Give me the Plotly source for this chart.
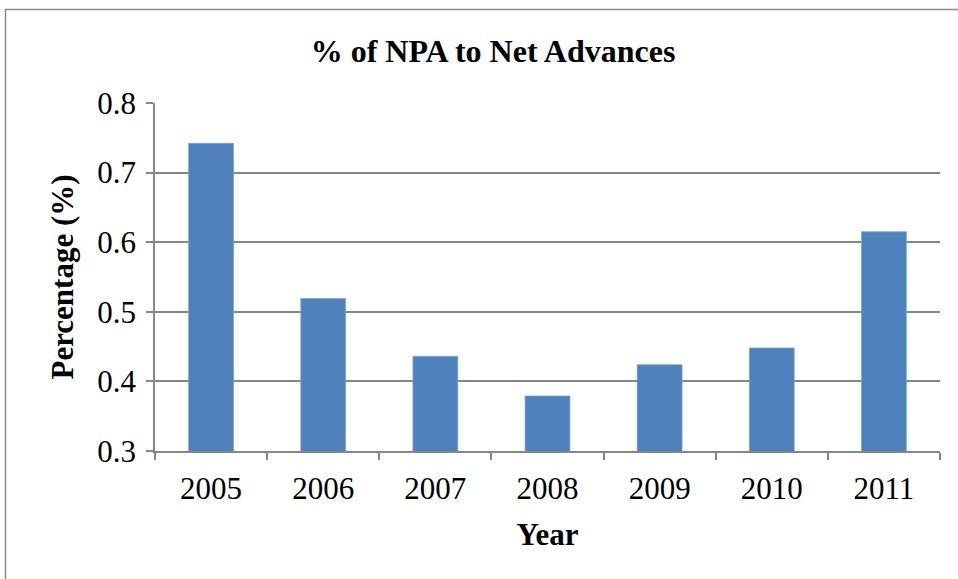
import plotly.graph_objects as go

years = ["2005", "2006", "2007", "2008", "2009", "2010", "2011"]
npa_pct = [0.742, 0.519, 0.436, 0.379, 0.424, 0.448, 0.615]
y_ticks = [0.3, 0.4, 0.5, 0.6, 0.7, 0.8]

W, H = 958, 579
L, R, T, B = 155, 18, 103, 128
pw, ph = W - L - R, H - T - B

font = "Liberation Serif, Times New Roman, serif"
grey = "#868686"

fig = go.Figure(go.Bar(
    x=years, y=npa_pct,
    marker=dict(color="#4F81BD", line=dict(color="#7FA3D1", width=0.8)),
))

fig.update_layout(
    width=W, height=H,
    margin=dict(l=L, r=R, t=T, b=B, pad=0),
    paper_bgcolor="white", plot_bgcolor="white",
    bargap=0.6,
    showlegend=False,
    font=dict(family=font, color="black", size=31),
    title=dict(text="<b>% of NPA to Net Advances</b>", x=493 / W, xanchor="center",
               y=1 - 51 / H, yanchor="middle", font=dict(size=32, family=font)),
    xaxis=dict(
        type="category", tickson="boundaries", ticks="outside", ticklen=7,
        tickcolor=grey, tickwidth=1.5, showline=True, linecolor=grey, linewidth=1.5,
        showgrid=False, tickfont=dict(size=31, family=font), ticklabelstandoff=9,
        title=dict(text="<b>Year</b>", font=dict(size=31, family=font), standoff=18),
    ),
    yaxis=dict(
        range=[0.3, 0.8], tickvals=y_ticks, tickformat=".1f", ticks="outside", ticklen=7,
        tickcolor=grey, tickwidth=1.5, showline=True, linecolor=grey, linewidth=1.5,
        showgrid=True, gridcolor=grey, gridwidth=1.5, zeroline=False,
        tickfont=dict(size=31, family=font), ticklabelstandoff=4,
        title=dict(text="<b>Percentage (%)</b>", font=dict(size=31, family=font), standoff=14),
    ),
    shapes=[dict(type="rect", xref="paper", yref="paper",
                 x0=(5.5 - L) / pw, x1=2, y0=-2, y1=(H - B - 9.5) / ph,
                 line=dict(color="#8c8c8c", width=1.5), fillcolor="rgba(0,0,0,0)",
                 layer="below")],
)

fig.write_html("out.html", config={"displayModeBar": False},
               post_script="document.body.style.margin='0';")
